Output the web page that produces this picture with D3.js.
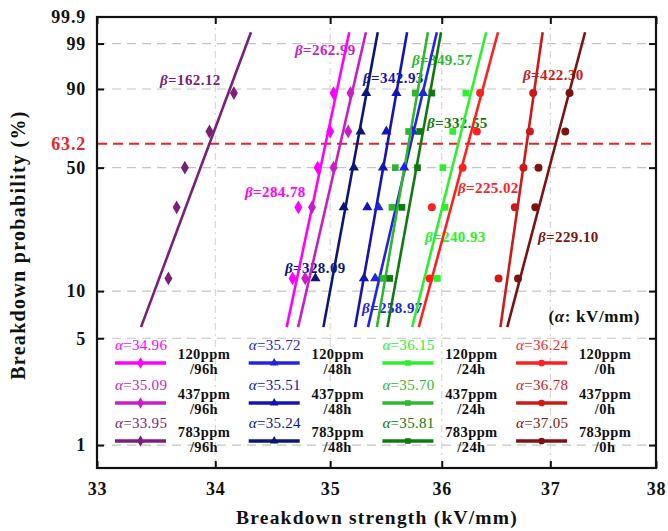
<!DOCTYPE html>
<html><head><meta charset="utf-8">
<script src="https://cdn.jsdelivr.net/npm/d3@7/dist/d3.min.js"></script>
<style>
body{margin:0;background:#fff}
svg text{font-family:"Liberation Serif","Times New Roman",serif;}
</style>
</head><body>
<svg id="chart" width="668" height="531"></svg>
<script>
// ---------- DATA ----------
const concentrations = ["120ppm","437ppm","783ppm"];
const agingTimes = ["/96h","/48h","/24h","/0h"];
// alpha (kV/mm) per aging time column, rows = concentrations
const alphas = [
  [34.96, 35.09, 33.95],   // 96h
  [35.72, 35.51, 35.24],   // 48h
  [36.15, 35.70, 35.81],   // 24h
  [36.24, 36.78, 37.05]    // 0h
];
const betas = [
  [284.78, 262.99, 162.12],
  [258.97, 342.93, 328.09],
  [240.93, 349.57, 332.55],
  [225.02, 422.30, 229.10]
];
const probLevels = [0.12, 0.315, 0.5, 0.70, 0.885];
const strengths = [
  [[34.67, 34.72, 34.89, 35.00, 35.03],
   [34.78, 34.84, 35.03, 35.16, 35.18],
   [33.60, 33.67, 33.74, 33.95, 34.16]],
  [[35.40, 35.43, 35.66, 35.74, 35.83],
   [35.30, 35.33, 35.47, 35.50, 35.59],
   [34.87, 35.12, 35.21, 35.27, 35.32]],
  [[35.96, 36.03, 36.01, 36.10, 36.22],
   [35.47, 35.55, 35.58, 35.70, 35.76],
   [35.53, 35.64, 35.78, 35.80, 35.91]],
  [[35.89, 35.91, 36.19, 36.32, 36.35],
   [36.52, 36.67, 36.75, 36.81, 36.84],
   [36.70, 36.86, 36.89, 37.14, 37.18]]
];
const xTicks = [33, 34, 35, 36, 37, 38];
const yTickLabels = ["1", "5", "10", "50", "63.2", "90", "99", "99.9"];
const yTickProbs = [0.01, 0.05, 0.10, 0.50, 0.632, 0.90, 0.99, 0.999];

// ---------- STYLE ----------
const colors = [
  ["#ff00ff", "#c81ec8", "#7a1f7c"],
  ["#2323e6", "#1414b4", "#0b1677"],
  ["#2cf02c", "#2fb82f", "#107a10"],
  ["#ff1f1f", "#cc1a1a", "#7d1212"]
];
const symbols = [d3.symbolDiamond, d3.symbolTriangle, d3.symbolSquare, d3.symbolCircle];
const symSizes = [55, 45, 45, 50];
// beta label anchor (text start px, center px)
const betaLabelPos = [
  [[245, 192], [295, 50], [160, 80]],
  [[362, 308], [363, 78], [285, 268]],
  [[425, 237], [412, 60], [427, 123]],
  [[458, 188], [523, 75], [538, 237]]
];

const pL = 97, pR = 656, pT = 17, pB = 468;
const weib = p => Math.log(-Math.log(1 - p));
const x = d3.scaleLog().domain([33, 38]).range([pL, pR]);
const y = d3.scaleLinear().domain([-4.95, weib(0.999)]).range([pB, pT]);

const svg = d3.select("#chart");

// grid lines
const gridProbs = [0.01, 0.05, 0.10, 0.50, 0.90, 0.99];
svg.append("g").selectAll("line").data(gridProbs).join("line")
  .attr("x1", pL).attr("x2", pR)
  .attr("y1", d => y(weib(d))).attr("y2", d => y(weib(d)))
  .attr("stroke", "#c4c4c4").attr("stroke-width", 1.2).attr("stroke-dasharray", "9,6");
svg.append("g").selectAll("line").data([34, 35, 36, 37]).join("line")
  .attr("x1", d => x(d)).attr("x2", d => x(d))
  .attr("y1", pT).attr("y2", pB)
  .attr("stroke", "#cfcfcf").attr("stroke-width", 1).attr("stroke-dasharray", "7,4,2,4");

// 63.2 reference line
svg.append("line")
  .attr("x1", pL).attr("x2", pR)
  .attr("y1", y(weib(0.632))).attr("y2", y(weib(0.632)))
  .attr("stroke", "#e3262e").attr("stroke-width", 2).attr("stroke-dasharray", "10,6");

// beta labels
const lblG = svg.append("g");
alphas.forEach((col, ci) => col.forEach((a, ri) => {
  const [lx, ly] = betaLabelPos[ci][ri];
  const t = lblG.append("text").attr("x", lx).attr("y", ly).attr("dy", "0.35em")
    .attr("fill", colors[ci][ri]).attr("font-size", 15).attr("font-weight", "bold")
    .attr("letter-spacing", 0.4);
  t.append("tspan").attr("font-style", "italic").text("β");
  t.append("tspan").text("=" + betas[ci][ri].toFixed(2));
}));

// fit lines
const tRange = [-2.8, 1.7];
const lineG = svg.append("g");
alphas.forEach((col, ci) => col.forEach((a, ri) => {
  const b = betas[ci][ri];
  const pts = tRange.map(t => [x(a * Math.exp(t / b)), y(t)]);
  lineG.append("path").attr("d", d3.line()(pts))
    .attr("stroke", colors[ci][ri]).attr("stroke-width", 2.6).attr("fill", "none");
}));

// data points
const ptG = svg.append("g");
strengths.forEach((col, ci) => col.forEach((vals, ri) => {
  ptG.selectAll(null).data(vals.map((v, i) => [v, probLevels[i]])).join("path")
    .attr("transform", d => `translate(${x(d[0])},${y(weib(d[1]))})`)
    .attr("d", d3.symbol().type(symbols[ci]).size(symSizes[ci]))
    .attr("fill", colors[ci][ri]);
}));

// axes
const axFont = g => g.selectAll("text").attr("font-size", 18).attr("font-weight", "bold")
  .attr("fill", "#111").attr("letter-spacing", 0.8);
const xb = svg.append("g").attr("transform", `translate(0,${pB})`)
  .call(d3.axisBottom(x).tickValues(xTicks).tickFormat(d3.format("d")).tickSize(-7).tickPadding(14));
xb.select(".domain").remove();
xb.selectAll("line").attr("stroke", "#111").attr("stroke-width", 2);
axFont(xb);
const xt = svg.append("g").attr("transform", `translate(0,${pT})`)
  .call(d3.axisTop(x).tickValues(xTicks).tickFormat("").tickSize(-7));
xt.select(".domain").remove();
xt.selectAll("line").attr("stroke", "#111").attr("stroke-width", 2);

const yl = svg.append("g").attr("transform", `translate(${pL},0)`)
  .call(d3.axisLeft(y).tickValues(yTickProbs.map(weib)).tickFormat((d, i) => yTickLabels[i])
    .tickSize(-7).tickPadding(11));
yl.select(".domain").remove();
yl.selectAll("line").attr("stroke", "#111").attr("stroke-width", 2)
  .attr("display", (d, i) => (yTickLabels[i] === "63.2" || yTickLabels[i] === "99.9") ? "none" : null);
axFont(yl);
yl.selectAll("text").attr("fill", (d, i) => yTickLabels[i] === "63.2" ? "#e3262e" : "#111");
const yr = svg.append("g").attr("transform", `translate(${pR},0)`)
  .call(d3.axisRight(y).tickValues(gridProbs.map(weib)).tickFormat("").tickSize(-7));
yr.select(".domain").remove();
yr.selectAll("line").attr("stroke", "#111").attr("stroke-width", 2);

// frame
svg.append("rect").attr("x", pL).attr("y", pT).attr("width", pR - pL).attr("height", pB - pT)
  .attr("fill", "none").attr("stroke", "#111").attr("stroke-width", 2.2);

// legend
const legG = svg.append("g");
const rowY = [363, 403, 441];
agingTimes.forEach((tm, ci) => concentrations.forEach((cc, ri) => {
  const x0 = 115 + ci * 133.7, ly = rowY[ri];
  const at = legG.append("text").attr("x", x0).attr("y", ly - 18).attr("dy", "0.35em")
    .attr("fill", colors[ci][ri]).attr("font-size", 15).attr("letter-spacing", 0.3);
  at.append("tspan").attr("font-style", "italic").text("α");
  at.append("tspan").text("=" + alphas[ci][ri].toFixed(2));
  legG.append("line").attr("x1", x0).attr("x2", x0 + 51).attr("y1", ly).attr("y2", ly)
    .attr("stroke", colors[ci][ri]).attr("stroke-width", 3.5);
  legG.append("path").attr("transform", `translate(${x0 + 25.5},${ly})`)
    .attr("d", d3.symbol().type(symbols[ci]).size(symSizes[ci] * 0.7)).attr("fill", colors[ci][ri]);
  legG.append("text").attr("x", x0 + 89).attr("y", ly - 9).attr("dy", "0.32em")
    .attr("text-anchor", "middle").attr("font-size", 14.5).attr("font-weight", "bold")
    .attr("fill", "#111").attr("letter-spacing", 0.4).text(cc);
  legG.append("text").attr("x", x0 + 89).attr("y", ly + 6).attr("dy", "0.32em")
    .attr("text-anchor", "middle").attr("font-size", 14.5).attr("font-weight", "bold")
    .attr("fill", "#111").attr("letter-spacing", 0.4).text(tm);
}));

// unit note
const un = svg.append("text").attr("x", 640).attr("y", 316).attr("dy", "0.35em")
  .attr("text-anchor", "end").attr("font-size", 17).attr("font-weight", "bold").attr("fill", "#111")
  .attr("letter-spacing", 0.6);
un.append("tspan").text("(");
un.append("tspan").attr("font-style", "italic").text("α");
un.append("tspan").text(": kV/mm)");

// axis titles
svg.append("text").attr("x", 377).attr("y", 524)
  .attr("text-anchor", "middle").attr("font-size", 19.5).attr("font-weight", "bold")
  .attr("fill", "#111").attr("letter-spacing", 1.2).text("Breakdown strength (kV/mm)");
svg.append("text").attr("transform", `translate(25,245) rotate(-90)`)
  .attr("text-anchor", "middle").attr("font-size", 20).attr("font-weight", "bold")
  .attr("fill", "#111").attr("letter-spacing", 1.3).text("Breakdown probability (%)");
</script>
</body></html>
